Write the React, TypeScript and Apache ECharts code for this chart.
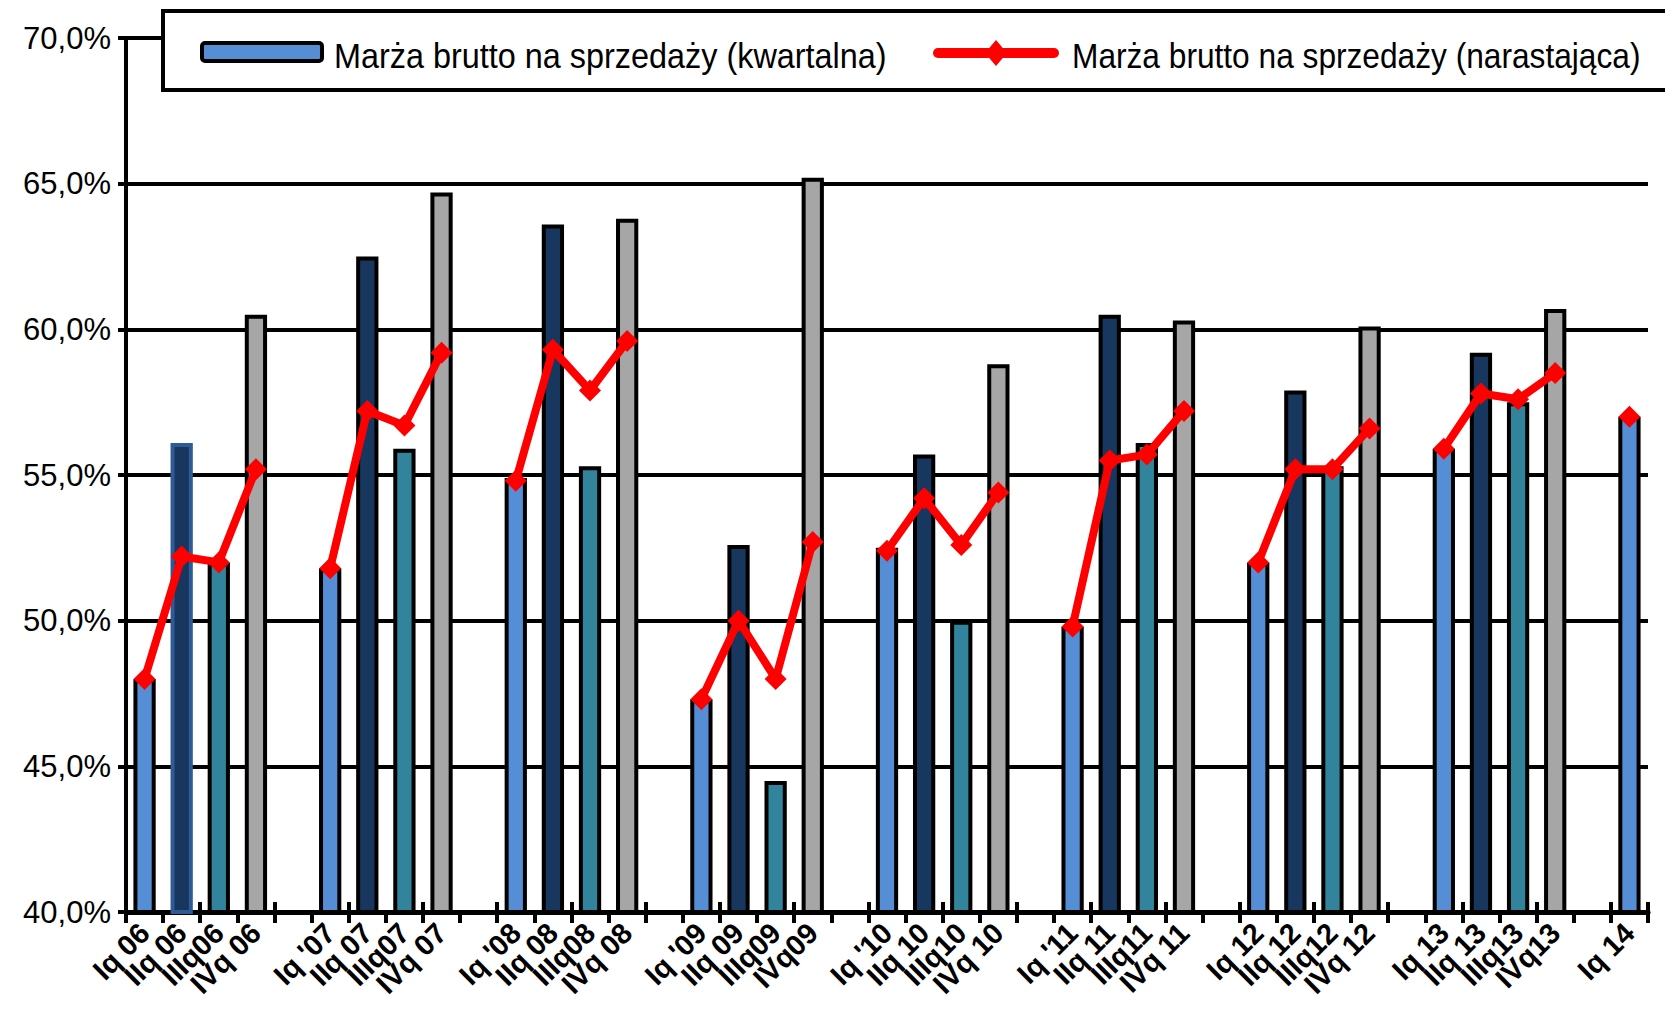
import React, { useEffect, useRef } from "react";
import * as echarts from "echarts";

const categories: string[] = [
  "Iq 06", "IIq 06", "IIIq06", "IVq 06", "",
  "Iq '07", "IIq 07", "IIIq07", "IVq 07", "",
  "Iq '08", "IIq 08", "IIIq08", "IVq 08", "",
  "Iq '09", "IIq 09", "IIIq09", "IVq09", "",
  "Iq '10", "IIq 10", "IIIq10", "IVq 10", "",
  "Iq '11", "IIq 11", "IIIq11", "IVq 11", "",
  "Iq 12", "IIq 12", "IIIq12", "IVq 12", "",
  "Iq 13", "IIq 13", "IIIq13", "IVq13", "",
  "Iq 14",
];

const kwartalna: (number | null)[] = [
  48.0, 56.1, 52.0, 60.5, null,
  51.8, 62.5, 55.9, 64.7, null,
  54.9, 63.6, 55.3, 63.8, null,
  47.3, 52.6, 44.5, 65.2, null,
  52.5, 55.7, 50.0, 58.8, null,
  49.8, 60.5, 56.1, 60.3, null,
  52.0, 57.9, 55.3, 60.1, null,
  55.9, 59.2, 57.5, 60.7, null,
  57.0,
];

const narastajaca: (number | null)[] = [
  48.0, 52.2, 52.0, 55.2, null,
  51.8, 57.2, 56.7, 59.2, null,
  54.8, 59.3, 57.9, 59.6, null,
  47.3, 50.0, 48.0, 52.7, null,
  52.4, 54.2, 52.6, 54.4, null,
  49.8, 55.5, 55.7, 57.2, null,
  52.0, 55.2, 55.2, 56.6, null,
  55.9, 57.8, 57.6, 58.5, null,
  57.0,
];

const quarterColors = ["#558ED5", "#17375E", "#31849B", "#A6A6A6"];
const seriesNames = [
  "Marża brutto na sprzedaży (kwartalna)",
  "Marża brutto na sprzedaży (narastająca)",
];

export default function App() {
  const ref = useRef<HTMLDivElement>(null);
  useEffect(() => {
    if (!ref.current) return;
    const chart = echarts.init(ref.current, null, { renderer: "svg" });
    const barData = kwartalna.map((v, i) => {
      if (v === null) return null;
      const q = i % 5;
      const item: any = {
        value: v,
        itemStyle: { color: quarterColors[q] },
      };
      if (i === 1) item.itemStyle.borderColor = "#2E5A96";
      return item;
    });
    const font = "'Liberation Sans', Arial, sans-serif";
    const legendY = 47;
    chart.setOption({
      animation: false,
      backgroundColor: "#ffffff",
      grid: { left: 118, right: 17, top: 30, bottom: 109 },
      graphic: [
        {
          type: "rect",
          z: 10,
          shape: { x: 155, y: 3, width: 1530, height: 79 },
          style: { fill: "#fff", stroke: "#000", lineWidth: 4 },
        },
        {
          type: "rect",
          z: 11,
          shape: { x: 194, y: 35, width: 120, height: 18, r: 3 },
          style: { fill: "#558ED5", stroke: "#000", lineWidth: 4 },
        },
        {
          type: "text",
          z: 11,
          x: 326,
          y: legendY,
          scaleX: 0.9,
          style: {
            text: seriesNames[0],
            font: "36px " + font,
            fill: "#000",
            verticalAlign: "middle",
          },
        },
        {
          type: "line",
          z: 11,
          shape: { x1: 930, y1: 45, x2: 1046, y2: 45 },
          style: { stroke: "#FF0000", lineWidth: 10, lineCap: "round" },
        },
        {
          type: "polygon",
          z: 12,
          shape: { points: [[988, 32], [999, 45], [988, 58], [977, 45]] },
          style: { fill: "#FF0000" },
        },
        {
          type: "text",
          z: 11,
          x: 1064,
          y: legendY,
          scaleX: 0.88,
          style: {
            text: seriesNames[1],
            font: "36px " + font,
            fill: "#000",
            verticalAlign: "middle",
          },
        },
      ],
      xAxis: [
        {
          type: "category",
          data: categories,
          boundaryGap: true,
          axisLine: { lineStyle: { color: "#000", width: 5 } },
          axisTick: { show: true, length: 11, lineStyle: { color: "#000", width: 4 } },
          axisLabel: {
            interval: 0,
            rotate: 45,
            margin: 16,
            fontFamily: font,
            fontWeight: "bold",
            fontSize: 29,
            color: "#000",
          },
        },
        {
          type: "category",
          data: categories,
          position: "bottom",
          boundaryGap: true,
          axisLine: { show: false },
          axisTick: { show: true, inside: true, length: 10, lineStyle: { color: "#000", width: 4 } },
          axisLabel: { show: false },
        },
      ],
      yAxis: {
        type: "value",
        min: 40,
        max: 70,
        interval: 5,
        axisLine: { show: true, lineStyle: { color: "#000", width: 4 } },
        axisTick: { show: true, length: 8, lineStyle: { color: "#000", width: 4 } },
        splitLine: { lineStyle: { color: "#000", width: 4 } },
        axisLabel: {
          margin: 15,
          fontFamily: font,
          fontSize: 31,
          color: "#000",
          formatter: (v: number) => v.toFixed(1).replace(".", ",") + "%",
        },
      },
      series: [
        {
          name: seriesNames[0],
          type: "bar",
          data: barData,
          barWidth: "60%",
          itemStyle: { color: "#558ED5", borderColor: "#000", borderWidth: 4 },
        },
        {
          name: seriesNames[1],
          type: "line",
          data: narastajaca,
          connectNulls: false,
          symbol: "diamond",
          symbolSize: 22,
          lineStyle: { color: "#FF0000", width: 8 },
          itemStyle: { color: "#FF0000" },
          z: 5,
        },
      ],
    });
    return () => chart.dispose();
  }, []);
  return <div ref={ref} style={{ width: 1657, height: 1013 }} />;
}
